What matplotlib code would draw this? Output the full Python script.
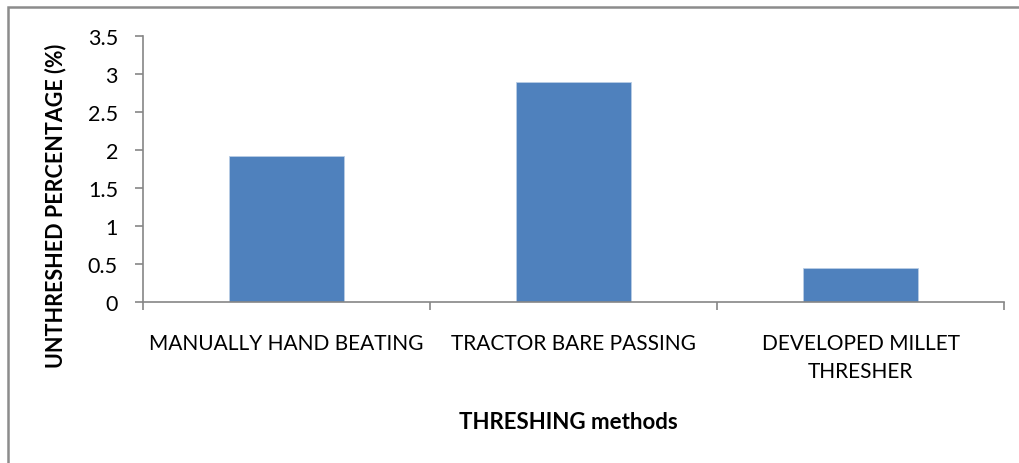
import matplotlib.pyplot as plt
from matplotlib.patches import Rectangle

plt.rcParams['font.family'] = ['Lato', 'DejaVu Sans']

methods = ['MANUALLY HAND BEATING', 'TRACTOR BARE PASSING', 'DEVELOPED MILLET\nTHRESHER']
unthreshed = [1.92, 2.90, 0.45]
yticks = [0, 0.5, 1, 1.5, 2, 2.5, 3, 3.5]
ytick_labels = ['0', '0.5', '1', '1.5', '2', '2.5', '3', '3.5']

W, H = 1019, 464
fig = plt.figure(figsize=(W / 100, H / 100), dpi=100)
ax = fig.add_axes([143 / W, 1 - 303 / H, (1004 - 143) / W, (303 - 37) / H])

x = range(len(methods))
ax.bar(x, unthreshed, width=0.4, color='#4F81BD', edgecolor='#b9cde5', linewidth=0.6)

ax.set_xlim(-0.5, len(methods) - 0.5)
ax.set_ylim(0, 3.5)
ax.set_yticks(yticks)
ax.set_yticklabels(ytick_labels, fontsize=15.5)

# ticks sit at category boundaries, labels at centres
ax.set_xticks([i - 0.5 for i in range(len(methods) + 1)])
ax.set_xticklabels([])
ax.set_xticks(list(x), minor=True)
ax.set_xticklabels(methods, minor=True, fontsize=15, linespacing=1.5)
ax.tick_params(axis='x', which='minor', length=0, pad=22)
ax.tick_params(axis='x', which='major', length=6, color='#868686', width=1.2)
ax.tick_params(axis='y', length=6, color='#868686', width=1.2, pad=12)

for s in ['top', 'right']:
    ax.spines[s].set_visible(False)
for s in ['left', 'bottom']:
    ax.spines[s].set_color('#868686')
    ax.spines[s].set_linewidth(1.2)

ax.set_ylabel('UNTHRESHED PERCENTAGE (%)', fontsize=15.5, fontweight='bold')
ax.yaxis.set_label_coords((56 - 143) / (1004 - 143), (303 - 206) / (303 - 37))
ax.yaxis.label.set_va('center')
fig.text((143 + 1004) / 2 / W - 0.005, 1 - 423 / H, 'THRESHING methods',
         fontsize=16, fontweight='bold', ha='center', va='center')

# chart area border (only left and top visible in the crop)
fig.patches.append(Rectangle((8 / W, -0.1), 1.2, 1 - 8 / H + 0.1, transform=fig.transFigure,
                             fill=False, edgecolor='#8c8c8c', linewidth=1.8))

fig.savefig('out.png', dpi=100)
